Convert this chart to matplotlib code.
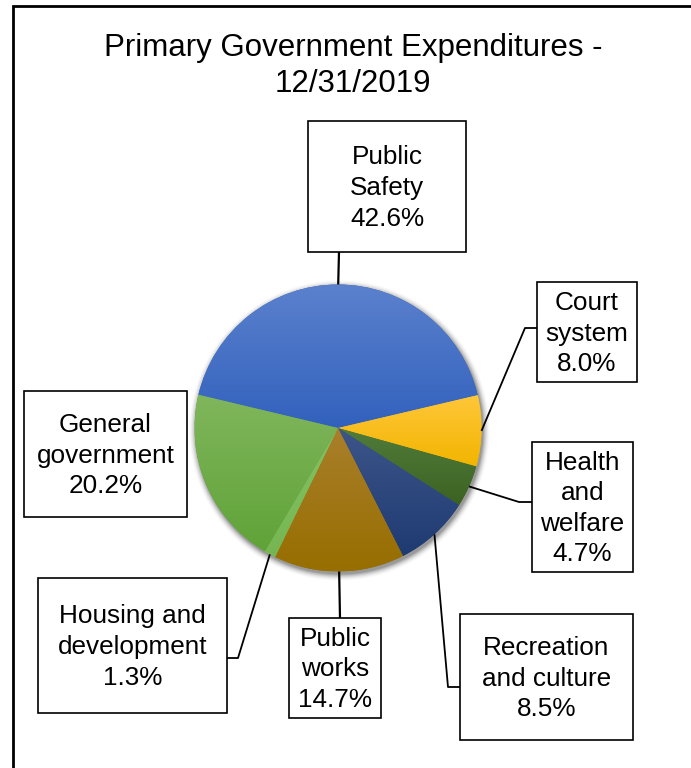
import numpy as np
import matplotlib
matplotlib.use("Agg")
import matplotlib.pyplot as plt
from matplotlib.patches import Rectangle
from matplotlib.colors import to_rgb

plt.rcParams['font.family'] = ['Liberation Sans', 'DejaVu Sans']

# expenditure shares, clockwise from Public Safety
categories = ["Public\nSafety", "Court\nsystem", "Health\nand\nwelfare",
              "Recreation\nand culture", "Public\nworks",
              "Housing and\ndevelopment", "General\ngovernment"]
shares = [42.6, 8.0, 4.7, 8.5, 14.7, 1.3, 20.2]
title = "Primary Government Expenditures -\n12/31/2019"

# gradient fill per slice: (top, bottom)
top_colors = ["#5B81CD", "#FFC73A", "#517C3B", "#3D5589", "#A97F2C", "#84C262", "#80B65C"]
bottom_colors = ["#3261BD", "#F2B500", "#3C6222", "#1E3B72", "#976E00", "#76B652", "#60A338"]

# label boxes in pixels (x0, y0, x1, y1), y measured downward
boxes = [(308, 121, 466, 252), (537, 282, 637, 382), (532, 442, 633, 572),
         (460, 614, 633, 740), (289, 618, 381, 718), (38, 578, 227, 713),
         (24, 391, 187, 517)]
# leader line: elbow point then anchor on the box (None = no leader)
leaders = [[(339, 252)],
           [(525, 328), (537, 328)],
           [(519, 502), (532, 502)],
           [(448, 687), (460, 687)],
           [(340, 618)],
           [(238, 658), (227, 658)],
           None]

W, H = 691, 768
cx, cy, R = 338, 428, 143.5

fig = plt.figure(figsize=(W / 100, H / 100), dpi=100)
ax = fig.add_axes([0, 0, 1, 1])

# y axis points down, so counterclockwise in data is clockwise on screen
wedges, _ = ax.pie(shares, startangle=-166.6, counterclock=True,
                   center=(cx, cy), radius=R,
                   colors=[c for c in bottom_colors],
                   wedgeprops=dict(linewidth=0, zorder=3))

ax.set_xlim(0, W)
ax.set_ylim(H, 0)
ax.set_aspect('equal')
ax.axis('off')

# soft shadow under the pie
gx, gy = np.meshgrid(np.arange(cx - R - 20, cx + R + 20, 1.0) + 0.5,
                     np.arange(cy - R - 20, cy + R + 20, 1.0) + 0.5)
d = np.hypot(gx - (cx + 2), gy - (cy + 3)) - R
alpha = 0.40 * np.clip(1 - d / 8.0, 0, 1) ** 2
shadow = np.zeros(gx.shape + (4,))
shadow[..., 3] = alpha
ax.imshow(shadow, extent=(gx.min() - 0.5, gx.max() + 0.5, gy.max() + 0.5, gy.min() - 0.5),
          origin='upper', zorder=2, interpolation='bilinear')

# vertical gradient inside each slice
for w, ct, cb in zip(wedges, top_colors, bottom_colors):
    ext = w.get_path().get_extents()
    n = 64
    t = np.linspace(0, 1, n)[:, None, None]
    grad = (1 - t) * np.array(to_rgb(ct)) + t * np.array(to_rgb(cb))
    im = ax.imshow(grad, extent=(ext.x0, ext.x1, ext.y1, ext.y0), origin='upper',
                   aspect='auto', zorder=4, interpolation='bilinear')
    im.set_clip_path(w)

ax.set_xlim(0, W)
ax.set_ylim(H, 0)

# labels with leader lines
for w, name, val, box, lead in zip(wedges, categories, shares, boxes, leaders):
    x0, y0, x1, y1 = box
    ax.add_patch(Rectangle((x0, y0), x1 - x0, y1 - y0, facecolor='white',
                           edgecolor='black', linewidth=1.2, zorder=6))
    ax.text((x0 + x1) / 2, (y0 + y1) / 2 + 1.5, f"{name}\n{val:.1f}%", ha='center',
            va='center', fontsize=18.8, linespacing=1.345, zorder=7)
    if lead:
        mid = np.deg2rad((w.theta1 + w.theta2) / 2)
        px, py = cx + R * np.cos(mid), cy + R * np.sin(mid)
        xs = [px] + [p[0] for p in lead]
        ys = [py] + [p[1] for p in lead]
        lw = 1.6 if len(lead) == 1 else 1.3
        ax.plot(xs, ys, color='black', linewidth=lw, zorder=5,
                solid_capstyle='butt')

ax.text(353, 66, title, ha='center', va='center', fontsize=22.5, linespacing=1.23)

# chart frame (left and top edges in view)
ax.plot([13.5, 13.5, W + 5], [H + 5, 5.5, 5.5], color='black', linewidth=2.0,
        solid_joinstyle='miter')

fig.savefig("out.png", dpi=100)
